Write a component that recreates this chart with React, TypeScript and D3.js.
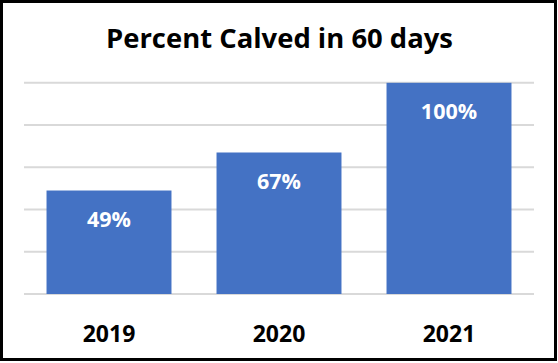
import React from "react";
import * as d3 from "d3";

const categories = ["2019", "2020", "2021"];
const values = [49, 67, 100];
const gridTicks = [0, 20, 40, 60, 80, 100];
const title = "Percent Calved in 60 days";

export default function App() {
  const W = 558, H = 363;
  const x = d3.scaleBand<string>().domain(categories).range([24, 534]).paddingInner(0.265).paddingOuter(0.1325);
  const y = d3.scaleLinear().domain([0, 100]).range([294, 82.8]);
  const font = "'Open Sans', 'DejaVu Sans', sans-serif";
  return (
    <svg width={W} height={H} style={{ position: "absolute", left: 0, top: 0 }} fontFamily={font}>
      <rect x={0} y={0} width={W} height={H} fill="#fff" />
      <rect x={1.5} y={1.5} width={554} height={358} fill="#fff" stroke="#000" strokeWidth={3} />
      <text x={279.5} y={48} textAnchor="middle" fontSize={26.5} fontWeight={700} fill="#000" textLength={347} lengthAdjust="spacingAndGlyphs">{title}</text>
      {gridTicks.map((t) => (
        <line key={t} x1={24} x2={534} y1={y(t)} y2={y(t)} stroke="#d9d9d9" strokeWidth={2} />
      ))}
      {categories.map((c, i) => (
        <g key={c}>
          <rect x={x(c)} y={y(values[i])} width={x.bandwidth()} height={y(0) - y(values[i])} fill="#4472C4" />
          <text x={(x(c) as number) + x.bandwidth() / 2} y={y(values[i]) + 36.5} textAnchor="middle" fontSize={21.5} fontWeight={700} fill="#fff">{values[i]}%</text>
          <text x={(x(c) as number) + x.bandwidth() / 2} y={342} textAnchor="middle" fontSize={23} fontWeight={700} fill="#000">{c}</text>
        </g>
      ))}
    </svg>
  );
}
